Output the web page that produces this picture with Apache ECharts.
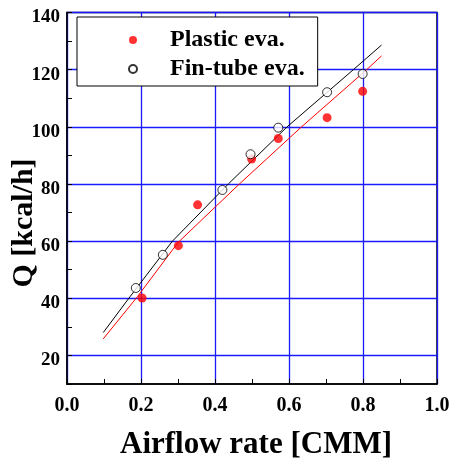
<!DOCTYPE html>
<html>
<head>
<meta charset="utf-8">
<script src="https://cdn.jsdelivr.net/npm/echarts@6/dist/echarts.min.js"></script>
<style>
html,body{margin:0;padding:0;background:#fff;}
#chart{width:453px;height:458px;}
</style>
</head>
<body>
<div id="chart"></div>
<script>
// Measured points
var plasticX = [0.203, 0.301, 0.353, 0.499, 0.571, 0.703, 0.799];
var plasticQ = [40.1, 58.4, 72.7, 88.7, 95.9, 103.2, 112.4];
var finX = [0.186, 0.259, 0.420, 0.496, 0.571, 0.703, 0.799];
var finQ = [43.6, 55.2, 77.9, 90.4, 99.7, 112.1, 118.5];
// Fitted curves
var plasticFitX = [0.098, 0.190, 0.300, 0.466, 0.634, 0.810, 0.850];
var plasticFitQ = [25.8, 40.5, 59.5, 80, 100, 120, 124.8];
var finFitX = [0.098, 0.170, 0.285, 0.436, 0.595, 0.774, 0.850];
var finFitQ = [28.0, 40.5, 60, 80, 100, 120, 128.6];
var seriesNames = ['Plastic eva.', 'Fin-tube eva.'];
var xTitle = 'Airflow rate [CMM]';
var yTitle = 'Q [kcal/h]';

function pairs(xs, ys) { return xs.map(function (x, i) { return [x, ys[i]]; }); }

var FONT = '"Liberation Serif", "Times New Roman", serif';
var chart = echarts.init(document.getElementById('chart'), null, {renderer: 'canvas'});
chart.setOption({
  animation: false,
  backgroundColor: '#fff',
  grid: {left: 67, right: 16, top: 12.5, bottom: 74, outerBoundsMode: 'none', containLabel: false,
         show: true, borderColor: '#000', borderWidth: 1.5, backgroundColor: 'transparent'},
  graphic: [{
    type: 'text', x: 24, y: 223, rotation: Math.PI / 2,
    style: {text: yTitle, fontFamily: FONT, fontWeight: 'bold', fontSize: 30, fill: '#000', align: 'center', verticalAlign: 'middle'}
  }],
  legend: {
    data: seriesNames,
    orient: 'vertical',
    left: 77, top: 17,
    padding: [11, 13, 5, 51],
    itemGap: 5,
    itemWidth: 8, itemHeight: 8,
    backgroundColor: '#fff',
    borderColor: '#000', borderWidth: 1,
    textStyle: {fontFamily: FONT, fontWeight: 'bold', fontSize: 24, lineHeight: 24, color: '#000', padding: [0, 0, 0, 28]}
  },
  xAxis: {
    type: 'value', min: 0, max: 1, interval: 0.1,
    name: xTitle, nameLocation: 'middle', nameGap: 45,
    nameTextStyle: {fontFamily: FONT, fontWeight: 'bold', fontSize: 31, color: '#000', padding: [0, 0, 0, 8]},
    axisLine: {show: true, lineStyle: {color: '#000', width: 1.5}},
    axisTick: {show: true, inside: true, length: 5, lineStyle: {color: '#000', width: 1}},
    axisLabel: {
      fontFamily: FONT, fontWeight: 'bold', fontSize: 20, color: '#000', margin: 12,
      formatter: function (v) { return Math.round(v * 10) % 2 === 0 ? v.toFixed(1) : ''; }
    },
    splitLine: {show: true, lineStyle: {color: ['#1a1aff', 'rgba(0,0,0,0)'], width: 1.3}}
  },
  yAxis: {
    type: 'value', min: 10, max: 140, interval: 10,
    axisLine: {show: true, lineStyle: {color: '#000', width: 1.5}},
    axisTick: {show: true, inside: true, length: 5, lineStyle: {color: '#000', width: 1}},
    axisLabel: {
      fontFamily: FONT, fontWeight: 'bold', fontSize: 19, color: '#000', margin: 7,
      verticalAlign: 'top', lineHeight: 10,
      formatter: function (v) { return v % 20 === 0 ? String(v) : ''; }
    },
    splitLine: {show: true, lineStyle: {color: ['rgba(0,0,0,0)', '#1a1aff'], width: 1.3}}
  },
  series: [
    {name: 'Plastic fit', type: 'line', data: pairs(plasticFitX, plasticFitQ), smooth: false, showSymbol: false, symbol: 'none',
     lineStyle: {color: '#ff0000', width: 1}, z: 3, silent: true},
    {name: 'Fin-tube fit', type: 'line', data: pairs(finFitX, finFitQ), smooth: false, showSymbol: false, symbol: 'none',
     lineStyle: {color: '#000', width: 1}, z: 3, silent: true},
    {name: seriesNames[0], type: 'scatter', data: pairs(plasticX, plasticQ), symbol: 'circle', symbolSize: 9,
     itemStyle: {color: '#ff0000', borderWidth: 0}, z: 4},
    {name: seriesNames[1], type: 'scatter', data: pairs(finX, finQ), symbol: 'circle', symbolSize: 9,
     itemStyle: {color: '#fff', borderColor: '#000', borderWidth: 1}, z: 5}
  ]
});
</script>
</body>
</html>
